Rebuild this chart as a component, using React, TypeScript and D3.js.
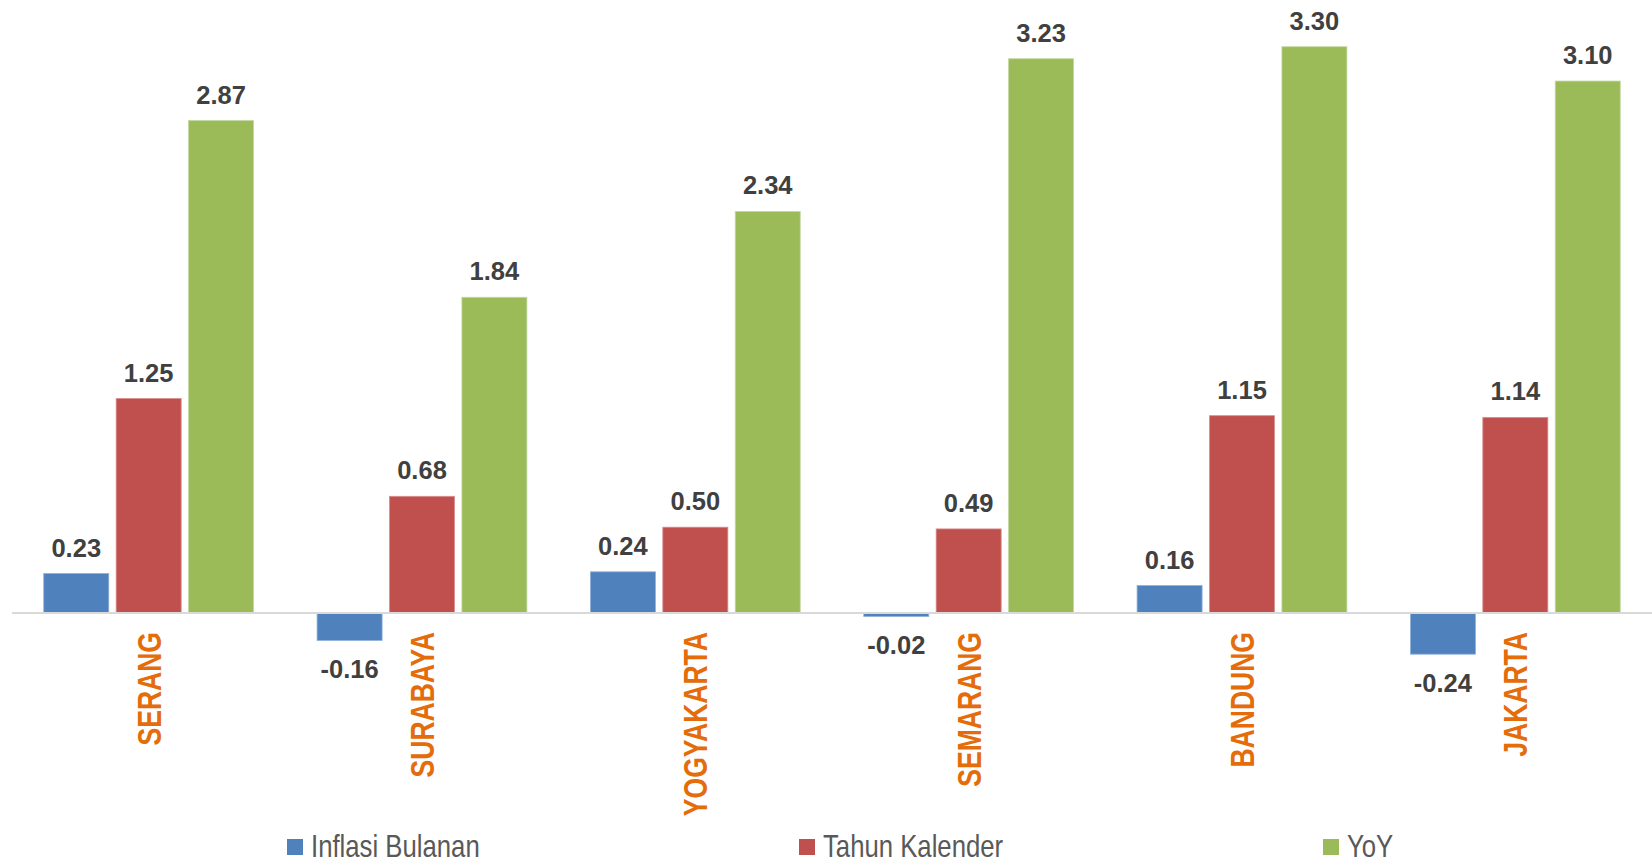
import React from 'react';
import * as d3 from 'd3';

const categories = ['SERANG', 'SURABAYA', 'YOGYAKARTA', 'SEMARANG', 'BANDUNG', 'JAKARTA'];
const seriesNames = ['Inflasi Bulanan', 'Tahun Kalender', 'YoY'];
const inflasiBulanan = [0.23, -0.16, 0.24, -0.02, 0.16, -0.24];
const tahunKalender = [1.25, 0.68, 0.5, 0.49, 1.15, 1.14];
const yoy = [2.87, 1.84, 2.34, 3.23, 3.3, 3.1];

const seriesValues = [inflasiBulanan, tahunKalender, yoy];
const colors = ['#4F81BD', '#C0504D', '#9BBB59'];
const strokes = ['#8FB0D9', '#D98E8C', '#C4D9A0'];

const W = 1652;
const H = 864;
const font = '"Liberation Sans", Arial, sans-serif';

export default function App() {
  const x = d3.scaleBand<string>().domain(categories).range([12, W]).padding(0);
  const xs = d3
    .scaleBand<number>()
    .domain([0, 1, 2])
    .range([0, x.bandwidth()])
    .paddingInner(0.102)
    .paddingOuter(0.4385);
  const y = d3.scaleLinear().domain([0, 3.5]).range([613, 613 - 3.5 * 171.6]);

  // legend x positions
  const legendX = [287, 799, 1323];

  return (
    <svg
      width={W}
      height={H}
      style={{ position: 'absolute', left: 0, top: 0, background: '#fff' }}
    >
      <rect width={W} height={H} fill="#fff" />

      {/* bars */}
      {categories.map((c, i) => (
        <g key={c} transform={`translate(${x(c)},0)`}>
          {seriesValues.map((vals, s) => {
            const v = vals[i];
            const y0 = y(Math.max(0, v));
            const y1 = y(Math.min(0, v));
            return (
              <rect
                key={s}
                x={xs(s)}
                y={y0}
                width={xs.bandwidth()}
                height={Math.max(y1 - y0, 1.5)}
                fill={colors[s]}
                stroke={strokes[s]}
                strokeWidth={0.8}
              />
            );
          })}
        </g>
      ))}

      {/* zero axis */}
      <line x1={12} x2={W} y1={y(0)} y2={y(0)} stroke="#D9D9D9" strokeWidth={2} />

      {/* value labels */}
      {categories.map((c, i) => (
        <g key={c + '-lab'} transform={`translate(${x(c)},0)`}>
          {seriesValues.map((vals, s) => {
            const v = vals[i];
            const ly = v >= 0 ? y(v) - 17 : y(v) + 38;
            return (
              <text
                key={s}
                x={(xs(s) ?? 0) + xs.bandwidth() / 2}
                y={ly}
                textAnchor="middle"
                fontFamily={font}
                fontWeight="bold"
                fontSize={25.5}
                fill="#404040"
              >
                {v.toFixed(2)}
              </text>
            );
          })}
        </g>
      ))}

      {/* category labels */}
      {categories.map((c) => (
        <text
          key={c + '-cat'}
          transform={`translate(${(x(c) ?? 0) + x.bandwidth() / 2},632) rotate(-90) scale(0.78,1)`}
          textAnchor="end"
          dy="0.35em"
          fontFamily={font}
          fontWeight="bold"
          fontSize={34}
          fill="#E46C0A"
        >
          {c}
        </text>
      ))}

      {/* legend */}
      {seriesNames.map((n, s) => (
        <g key={n}>
          <rect x={legendX[s]} y={839} width={16} height={16} fill={colors[s]} />
          <text
            transform={`translate(${legendX[s] + 24},857) scale(0.83,1)`}
            fontFamily={font}
            fontSize={31}
            fill="#595959"
          >
            {n}
          </text>
        </g>
      ))}
    </svg>
  );
}
